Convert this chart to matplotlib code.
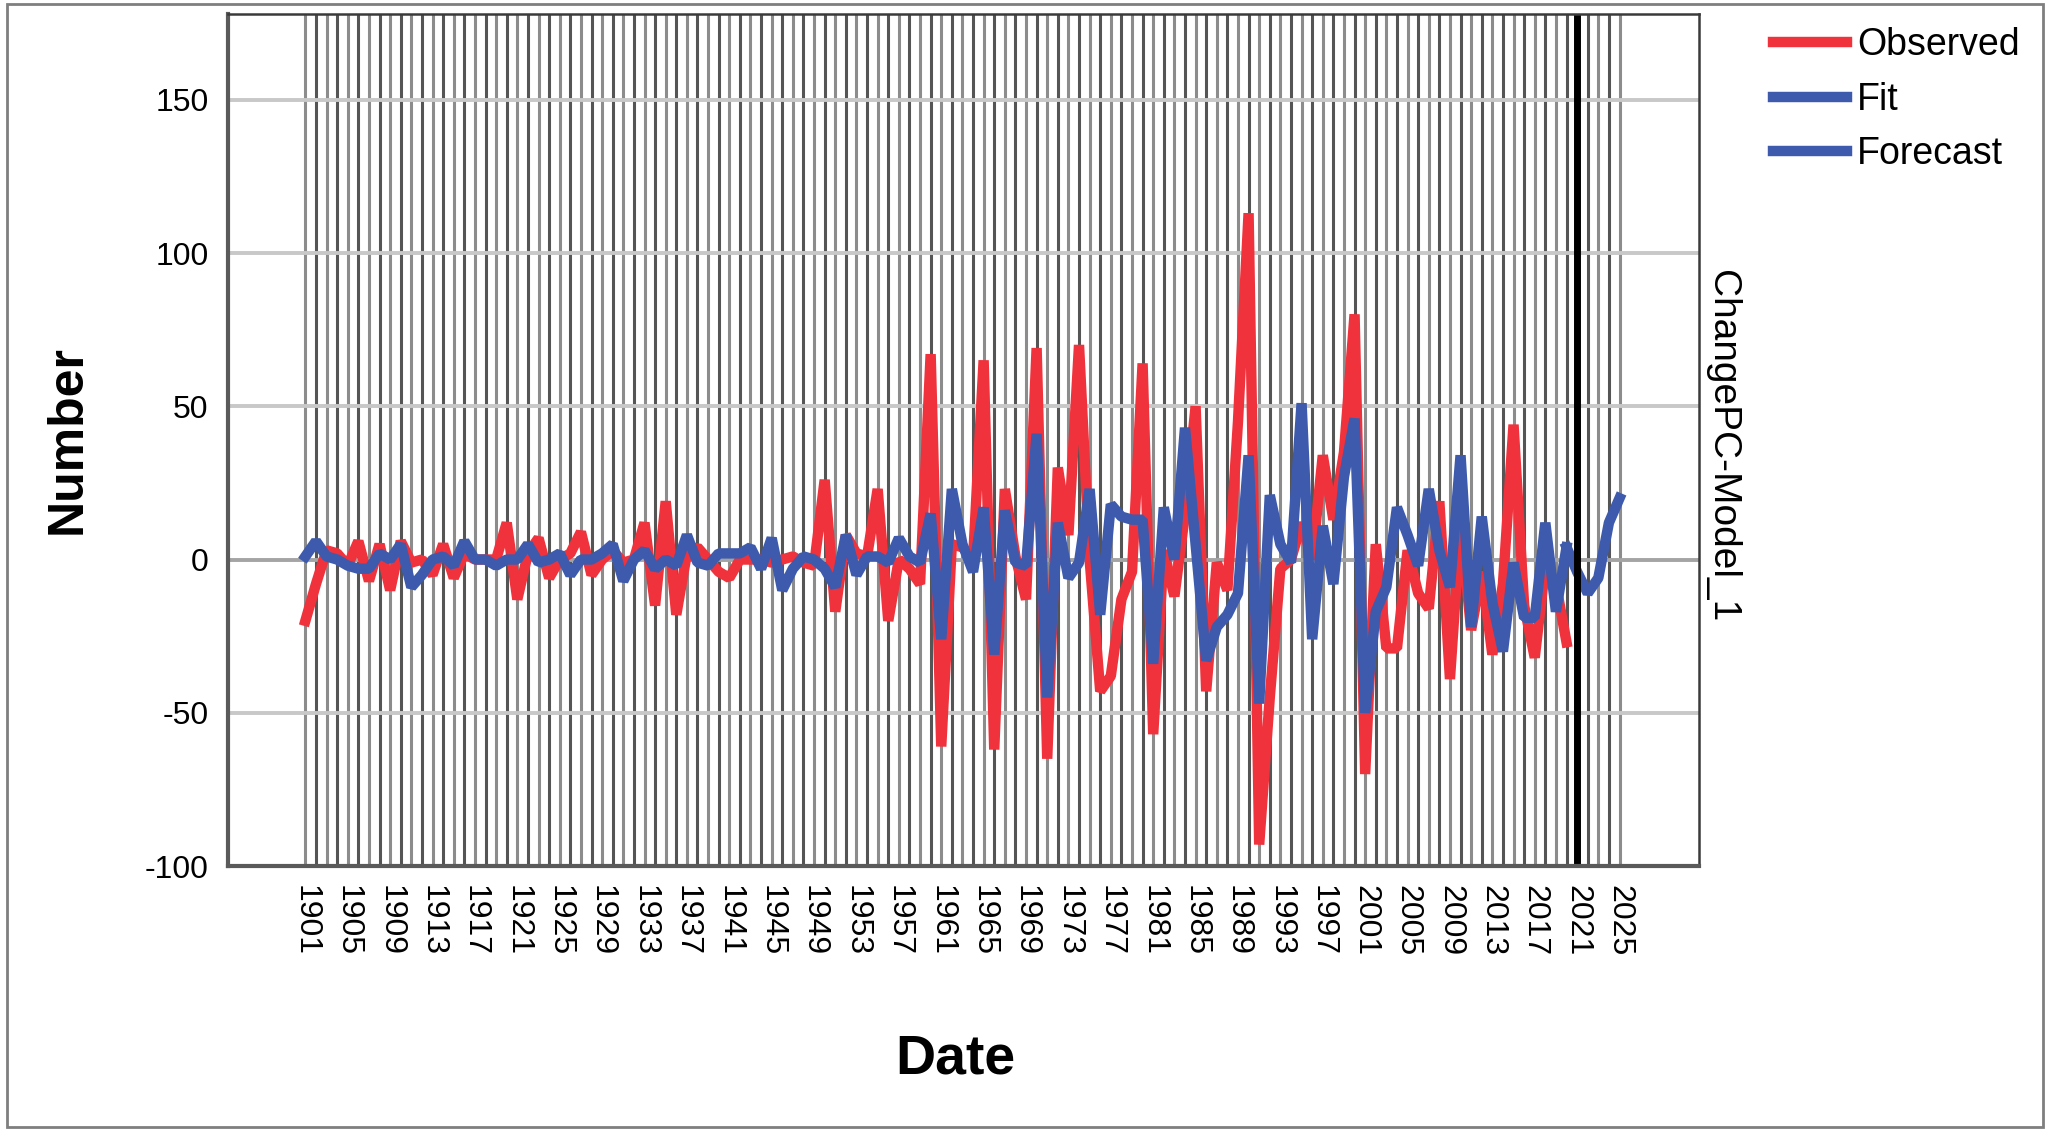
import numpy as np
import matplotlib
matplotlib.use('Agg')
import matplotlib.pyplot as plt
from matplotlib.patches import Rectangle

plt.rcParams['font.family'] = ['Liberation Sans', 'DejaVu Sans']

# ---------------- data ----------------
obs_start = 1901
observed = [
    -20, -8, 3, 2, -2, 6, -7, 5, -10, 6,          # 1901-1910
    -1, 0, -5, 5, -6, 2, 0, 0, 0, 12,             # 1911-1920
    -13, 2, 7, -6, 0, 2, 9, -5, 0, 3,             # 1921-1930
    -1, 0, 12, -15, 19, -18, 2, 4, 0, -4,         # 1931-1940
    -6, 0, 0, 0, -1, 0, 1, -1, -2, 26,            # 1941-1950
    -17, 8, 2, 1, 23, -20, 0, -3, -8, 67,         # 1951-1960
    -61, 5, 4, 0, 65, -62, 23, 1, -13, 69,        # 1961-1970
    -65, 30, 8, 70, 0, -43, -38, -13, -4, 64,     # 1971-1980
    -57, 3, -12, 15, 50, -43, -1, -10, 45, 113,   # 1981-1990
    -93, -45, -3, 0, 12, 0, 34, 13, 35, 80,       # 1991-2000
    -70, 5, -29, -29, 3, -11, -16, 19, -39, 12,   # 2001-2010
    -23, -4, -31, -8, 44, -15, -32, -2, -8, -27,  # 2011-2020
]
fit = [
    1, 6, 1, 0, -2, -3, -3, 2, 0, 5,              # 1901-1910
    -9, -5, 0, 1, -2, 6, 0, 0, -2, 0,             # 1911-1920
    0, 5, -1, 0, 2, -5, 0, 0, 2, 5,               # 1921-1930
    -7, 0, 3, -3, 0, -2, 8, -1, -2, 2,            # 1931-1940
    2, 2, 4, -3, 7, -10, -3, 1, 0, -3,            # 1941-1950
    -9, 8, -5, 1, 1, -1, 7, 1, -1, 15,            # 1951-1960
    -26, 23, 5, -4, 17, -31, 16, -1, -2, 41,      # 1961-1970
    -45, 12, -6, -1, 23, -18, 18, 14, 13, 13,     # 1971-1980
    -34, 17, 0, 43, 5, -33, -22, -18, -11, 34,    # 1981-1990
    -47, 21, 5, -1, 51, -26, 11, -8, 27, 46,      # 1991-2000
    -50, -17, -9, 17, 8, -2, 23, 3, -9, 34,       # 2001-2010
    -22, 14, -14, -30, -1, -19, -19, 12, -17, 4,  # 2011-2020
]
forecast_start = 2021
forecast = [-4, -11, -6, 12, 20]                  # 2021-2025

y_ticks = [-100, -50, 0, 50, 100, 150]
x_tick_step = 4
legend_labels = ['Observed', 'Fit', 'Forecast']
series_label = 'ChangePC-Model_1'
x_label = 'Date'
y_label = 'Number'

obs_years = np.arange(obs_start, obs_start + len(observed))
fc_years = np.arange(forecast_start, forecast_start + len(forecast))
all_years = np.arange(obs_start, fc_years[-1] + 1)

RED = '#f0323c'
BLUE = '#3d5aad'
LW = 7.5

# ---------------- figure ----------------
W, H = 2049, 1132
fig = plt.figure(figsize=(W / 100, H / 100), dpi=100)
fig.patch.set_facecolor('white')
ax = fig.add_axes([228 / W, 1 - 866 / H, (1699 - 228) / W, (866 - 14) / H])
ax.set_xlim(1893.7, 2032.5)
ax.set_ylim(-100, 178)

# vertical (yearly) grid lines
for yr in all_years:
    ax.axvline(yr, color='#555555' if yr % 2 == 0 else '#8c8c8c', lw=2.2, zorder=1)
# horizontal grid lines
for v in y_ticks:
    ax.axhline(v, color='#a4a4a4' if v == 0 else '#c8c8c8', lw=2.8, zorder=2)

l_obs, = ax.plot(obs_years, observed, color=RED, lw=LW, solid_joinstyle='bevel', zorder=3)
l_fit, = ax.plot(obs_years, fit, color=BLUE, lw=LW, solid_joinstyle='bevel', zorder=4)
l_fc, = ax.plot(np.r_[obs_years[-1], fc_years], np.r_[fit[-1], forecast], color=BLUE, lw=LW,
                solid_joinstyle='bevel', zorder=4)
ax.axvline(forecast_start, color='black', lw=5, zorder=5)

ax.set_yticks(y_ticks)
ax.set_yticklabels([str(v) for v in y_ticks])
xt = all_years[::x_tick_step]
ax.set_xticks(xt)
ax.set_xticklabels([str(y) for y in xt], rotation=270)
ax.tick_params(axis='both', length=0, labelsize=23, pad=14, colors='black')

for s in ['left', 'bottom']:
    ax.spines[s].set_linewidth(3)
    ax.spines[s].set_color('#5a5a5a')
for s in ['top', 'right']:
    ax.spines[s].set_linewidth(1.8)
    ax.spines[s].set_color('#3a3a3a')
for s in ax.spines.values():
    s.set_zorder(6)

fig.text(68 / W, 1 - 440 / H, y_label, rotation=90, fontsize=36, fontweight='bold',
         ha='center', va='center')
fig.text(955 / W, 1 - 1059 / H, x_label, fontsize=40, fontweight='bold',
         ha='center', va='center')
fig.text(1722 / W, 1 - 446 / H, series_label, rotation=270, fontsize=28,
         ha='center', va='center')

fig.legend(handles=[l_obs, l_fit, l_fc], labels=legend_labels, loc='upper left',
           bbox_to_anchor=(1773 / W, 1 - 27 / H), frameon=False, fontsize=27,
           handlelength=1.97, handletextpad=0.27, labelspacing=0.5, borderpad=0,
           borderaxespad=0)

fig.add_artist(Rectangle((7 / W, 1 - 1127 / H), (2043 - 7) / W, (1127 - 4) / H,
                         transform=fig.transFigure, fill=False, edgecolor='#7f7f7f', lw=2))

fig.savefig('out.png', dpi=100, facecolor='white')
